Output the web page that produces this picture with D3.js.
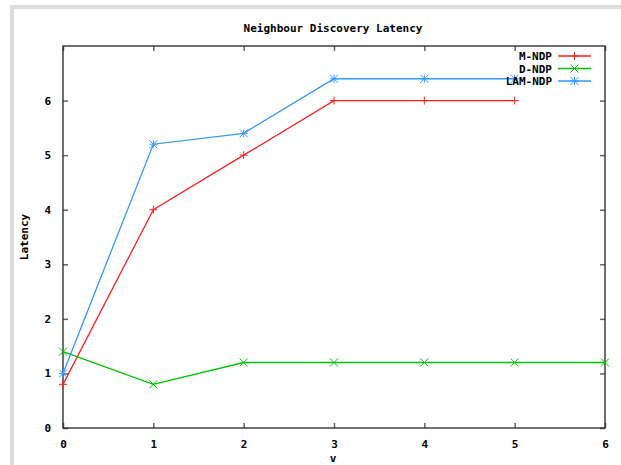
<!DOCTYPE html>
<html>
<head>
<meta charset="utf-8">
<script src="https://cdn.jsdelivr.net/npm/d3@7"></script>
<style>
  body { margin: 0; background: #fff; }
  text { font-family: "DejaVu Sans Mono", monospace; font-size: 11px; font-weight: bold; fill: #000; }
</style>
</head>
<body>
<script>
// data
const mNdpX = [0, 1, 2, 3, 4, 5]
const mNdpY = [0.8, 4, 5, 6, 6, 6]
const dNdpX = [0, 1, 2, 3, 4, 5, 6]
const dNdpY = [1.4, 0.8, 1.2, 1.2, 1.2, 1.2, 1.2]
const lamNdpX = [0, 1, 2, 3, 4, 5]
const lamNdpY = [1.0, 5.2, 5.4, 6.4, 6.4, 6.4]
const xTicks = [0, 1, 2, 3, 4, 5, 6]
const yTicks = [0, 1, 2, 3, 4, 5, 6]

const series = [
    {name: 'M-NDP', xs: mNdpX, ys: mNdpY, color: '#ff2020', mark: 'plus'},
    {name: 'D-NDP', xs: dNdpX, ys: dNdpY, color: '#00c000', mark: 'cross'},
    {name: 'LAM-NDP', xs: lamNdpX, ys: lamNdpY, color: '#3399ff', mark: 'star'}
]

const width = 621
const height = 465
const plotL = 63, plotR = 605, plotT = 46, plotB = 428

const svg = d3.select('body')
    .append('svg')
    .attr('width', width)
    .attr('height', height)

// light gray page border (top + left)
svg.append('rect').attr('x', 10).attr('y', 5).attr('width', width - 10).attr('height', 4).attr('fill', '#dddddd')
svg.append('rect').attr('x', 10).attr('y', 5).attr('width', 4).attr('height', height - 5).attr('fill', '#dddddd')

const xScale = d3.scaleLinear().domain([0, 6]).range([plotL, plotR])
const yScale = d3.scaleLinear().domain([0, 7]).range([plotB, plotT])

// axes with inward ticks, mirrored on top / right
const xAxis = d3.axisBottom(xScale).tickValues(xTicks).tickSize(-5).tickPadding(12).tickFormat(d3.format('d'))
const yAxis = d3.axisLeft(yScale).tickValues(yTicks).tickSize(-5).tickPadding(12).tickFormat(d3.format('d'))

const gx = svg.append('g').attr('transform', `translate(0, ${plotB})`).call(xAxis)
const gy = svg.append('g').attr('transform', `translate(${plotL}, 0)`).call(yAxis)
svg.append('g').attr('transform', `translate(0, ${plotT})`)
    .call(d3.axisTop(xScale).tickValues(xTicks).tickSize(-5).tickFormat(''))
svg.append('g').attr('transform', `translate(${plotR}, 0)`)
    .call(d3.axisRight(yScale).tickValues(yTicks).tickSize(-5).tickFormat(''))

svg.selectAll('.domain').remove()
svg.selectAll('.tick line').attr('stroke', '#666').attr('stroke-width', 1.5)
svg.selectAll('.tick text').style('font-size', '11px').attr('fill', '#000')
gy.selectAll('.tick text').attr('x', -12)

// frame
svg.append('rect')
    .attr('x', plotL).attr('y', plotT)
    .attr('width', plotR - plotL).attr('height', plotB - plotT)
    .attr('fill', 'none').attr('stroke', '#222').attr('stroke-width', 1.3)

// titles
svg.append('text').attr('x', 333).attr('y', 32).attr('text-anchor', 'middle').text('Neighbour Discovery Latency')
svg.append('text').attr('x', 333).attr('y', 462).attr('text-anchor', 'middle').text('v')
svg.append('text')
    .attr('transform', 'translate(28, 237) rotate(-90)')
    .attr('text-anchor', 'middle').text('Latency')

function drawMark(g, x, y, type, color) {
    const s = 4
    let p = ''
    if (type === 'plus' || type === 'star') p += `M${x - s},${y}H${x + s}M${x},${y - s}V${y + s}`
    if (type === 'cross' || type === 'star') p += `M${x - s},${y - s}L${x + s},${y + s}M${x - s},${y + s}L${x + s},${y - s}`
    g.append('path').attr('d', p).attr('stroke', color).attr('stroke-width', 1).attr('fill', 'none')
}

const line = d3.line().x(d => xScale(d[0])).y(d => yScale(d[1]))

series.forEach((s, i) => {
    const pts = s.xs.map((x, j) => [x, s.ys[j]])
    const g = svg.append('g')
    g.append('path').datum(pts).attr('d', line)
        .attr('fill', 'none').attr('stroke', s.color).attr('stroke-width', 1.3)
    pts.forEach(p => drawMark(g, xScale(p[0]), yScale(p[1]), s.mark, s.color))

    // legend
    const ly = 56 + i * 12.5
    svg.append('text').attr('x', 552).attr('y', ly + 4).attr('text-anchor', 'end').text(s.name)
    g.append('line').attr('x1', 558).attr('x2', 591).attr('y1', ly).attr('y2', ly)
        .attr('stroke', s.color).attr('stroke-width', 1.3)
    drawMark(g, 574.5, ly, s.mark, s.color)
})
</script>
</body>
</html>
